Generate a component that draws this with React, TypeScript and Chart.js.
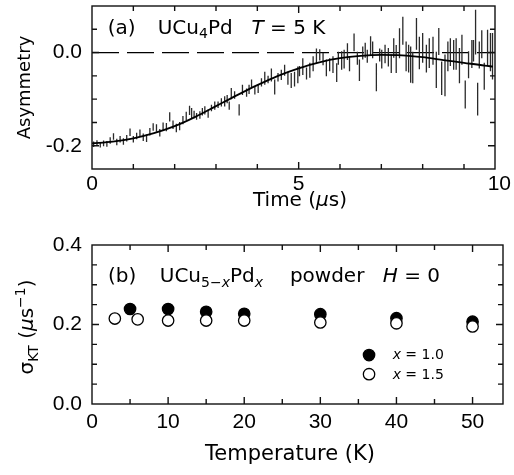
import React, { useEffect, useRef } from 'react';
import { Chart, registerables } from 'chart.js';
Chart.register(...registerables);

const FAM = '"DejaVu Sans"';
const F21 = `21px ${FAM}`;
const F20 = `20px ${FAM}`;
const F20I = `italic 20px ${FAM}`;
const F18 = `18px ${FAM}`;
const F14 = `14px ${FAM}`;
const F14I = `italic 14px ${FAM}`;
const TICK_FONT = '21px "Liberation Sans"';

// ---------- Panel (a): asymmetry vs time ----------
const A_T = [
  0.04, 0.12, 0.2, 0.28, 0.36, 0.44, 0.52, 0.6, 0.68, 0.76,
  0.84, 0.92, 1.0, 1.08, 1.16, 1.24, 1.32, 1.4, 1.48, 1.56,
  1.64, 1.72, 1.8, 1.88, 1.96, 2.04, 2.12, 2.2, 2.28, 2.36,
  2.41, 2.47, 2.53, 2.61, 2.67, 2.73, 2.81, 2.89, 2.97, 3.05,
  3.13, 3.21, 3.27, 3.32, 3.37, 3.45, 3.56, 3.64, 3.74, 3.8,
  3.86, 3.94, 4.02, 4.1, 4.18, 4.26, 4.34, 4.42, 4.5, 4.58,
  4.66, 4.74, 4.82, 4.9, 4.98,
  5.02, 5.1, 5.19, 5.27, 5.35, 5.43, 5.51, 5.59, 5.67, 5.75,
  5.83, 5.92, 5.96, 6.04, 6.1, 6.18, 6.23, 6.34, 6.42, 6.47,
  6.55, 6.61, 6.66, 6.74, 6.79, 6.88, 6.96, 7.01, 7.09, 7.17,
  7.24, 7.3, 7.36,
  7.44, 7.52, 7.6, 7.66, 7.71, 7.76, 7.85, 7.92, 8.0, 8.09,
  8.16, 8.25, 8.33, 8.39, 8.46, 8.54, 8.61, 8.67, 8.75, 8.81,
  8.89, 8.95, 9.03, 9.11, 9.19, 9.23, 9.28, 9.33, 9.37, 9.43,
  9.49, 9.57, 9.64, 9.69,
];
const A_Y = [
  -0.197, -0.194, -0.198, -0.195, -0.196, -0.189, -0.18, -0.192, -0.186, -0.191,
  -0.184, -0.171, -0.186, -0.179, -0.173, -0.182, -0.184, -0.17, -0.16, -0.162,
  -0.172, -0.158, -0.16, -0.138, -0.155, -0.162, -0.158, -0.145, -0.136, -0.124,
  -0.13, -0.133, -0.137, -0.134, -0.127, -0.124, -0.131, -0.119, -0.114, -0.112,
  -0.107, -0.105, -0.1, -0.114, -0.088, -0.091, -0.123, -0.08, -0.086, -0.079,
  -0.067, -0.081, -0.078, -0.064, -0.055, -0.058, -0.048, -0.074, -0.053, -0.048,
  -0.038, -0.055, -0.06, -0.057, -0.048,
  -0.04, -0.03, -0.045, -0.038, -0.024, -0.007, -0.005, -0.014, -0.033, -0.026,
  -0.026, -0.043, -0.012, -0.017, -0.014, 0.002, -0.024, 0.022, -0.012, -0.038,
  -0.001, 0.005, -0.008, 0.015, 0.006, -0.053, -0.005, -0.014, -0.003, -0.01,
  -0.024, 0.01, -0.014,
  0.02, 0.047, -0.008, -0.013, -0.026, -0.032, 0.04, -0.001, 0.01, -0.013,
  -0.001, 0.004, -0.037, 0.024, -0.055, -0.049, -0.008, 0.001, -0.005, -0.003,
  -0.028, 0.006, -0.09, -0.026, -0.003, 0.004, 0.044, -0.1, -0.005, 0.018,
  -0.051, 0.01, 0.001, -0.008,
];
const A_E = [
  0.006, 0.006, 0.006, 0.006, 0.006, 0.007, 0.007, 0.007, 0.007, 0.007,
  0.007, 0.008, 0.007, 0.007, 0.008, 0.008, 0.008, 0.008, 0.008, 0.008,
  0.008, 0.008, 0.009, 0.01, 0.009, 0.009, 0.009, 0.009, 0.009, 0.01,
  0.011, 0.008, 0.007, 0.008, 0.008, 0.009, 0.009, 0.007, 0.009, 0.007,
  0.009, 0.011, 0.009, 0.009, 0.012, 0.008, 0.012, 0.011, 0.009, 0.01,
  0.009, 0.009, 0.009, 0.009, 0.014, 0.008, 0.014, 0.016, 0.009, 0.011,
  0.012, 0.014, 0.016, 0.016, 0.018,
  0.011, 0.018, 0.013, 0.016, 0.016, 0.016, 0.012, 0.013, 0.018, 0.014,
  0.018, 0.02, 0.014, 0.02, 0.02, 0.018, 0.016, 0.019, 0.014, 0.023,
  0.014, 0.016, 0.014, 0.02, 0.018, 0.03, 0.014, 0.02, 0.02, 0.02,
  0.02, 0.021, 0.03,
  0.032, 0.03, 0.032, 0.03, 0.039, 0.034, 0.034, 0.035, 0.032, 0.03,
  0.032, 0.03, 0.039, 0.029, 0.036, 0.045, 0.032, 0.03, 0.032, 0.034,
  0.038, 0.032, 0.03, 0.029, 0.03, 0.023, 0.048, 0.035, 0.029, 0.03,
  0.029, 0.039, 0.041, 0.05,
];
const A_FIT_T = [0, 0.5, 1, 1.5, 2, 2.5, 3, 3.5, 4, 4.5, 5, 5.5, 6, 6.5, 7, 7.5, 8, 8.5, 9, 9.5, 9.7];
const A_FIT_Y = [
  -0.195, -0.191, -0.184, -0.173, -0.158, -0.138, -0.115, -0.092, -0.07, -0.05,
  -0.034, -0.021, -0.012, -0.007, -0.005, -0.006, -0.01, -0.016, -0.022, -0.028, -0.03,
];
const A_ZERO_T = [0, 9.75];
const A_X_RANGE = [0, 9.75];
const A_Y_RANGE = [-0.25, 0.1];
const A_X_TICKS = [0, 5, 10];
const A_X_MINOR = [1, 2, 3, 4, 6, 7, 8, 9];
const A_Y_TICKS = [-0.2, 0];
const A_Y_MINOR = [-0.15, -0.1, -0.05, 0.05];

// ---------- Panel (b): sigma_KT vs temperature ----------
const B_T1 = [5, 10, 15, 20, 30, 40, 50];
const B_S1 = [0.239, 0.239, 0.232, 0.227, 0.226, 0.216, 0.207];
const B_T2 = [3, 6, 10, 15, 20, 30, 40, 50];
const B_S2 = [0.215, 0.213, 0.21, 0.21, 0.21, 0.205, 0.203, 0.195];
const B_LABELS = ['1.0', '1.5'];
const B_X_RANGE = [0, 54];
const B_Y_RANGE = [0, 0.4];
const B_X_TICKS = [0, 10, 20, 30, 40, 50];
const B_X_MINOR = [5, 15, 25, 35, 45];
const B_Y_TICKS = [0, 0.2, 0.4];
const B_Y_MINOR = [0.05, 0.1, 0.15, 0.25, 0.3, 0.35];

type Part = [string, string, number?];

function partsWidth(ctx: CanvasRenderingContext2D, parts: Part[]) {
  let w = 0;
  for (const p of parts) {
    ctx.font = p[1];
    w += ctx.measureText(p[0]).width;
  }
  return w;
}

function drawParts(ctx: CanvasRenderingContext2D, parts: Part[], x: number, y: number) {
  let cx = x;
  ctx.textAlign = 'left';
  ctx.textBaseline = 'alphabetic';
  ctx.fillStyle = '#000';
  for (const p of parts) {
    ctx.font = p[1];
    ctx.fillText(p[0], cx, y + (p[2] || 0));
    cx += ctx.measureText(p[0]).width;
  }
}

function drawCentered(ctx: CanvasRenderingContext2D, parts: Part[], cx: number, y: number) {
  drawParts(ctx, parts, cx - partsWidth(ctx, parts) / 2, y);
}

function drawVertical(ctx: CanvasRenderingContext2D, parts: Part[], bx: number, cy: number) {
  ctx.save();
  ctx.translate(bx, cy);
  ctx.rotate(-Math.PI / 2);
  drawParts(ctx, parts, -partsWidth(ctx, parts) / 2, 0);
  ctx.restore();
}

// frame, inward tick marks and x tick labels, all placed through the chart's scales
function framePlugin(
  xMaj: number[], xMin: number[], yMaj: number[], yMin: number[], labelGap: number
) {
  return {
    id: 'frameTicks',
    afterDatasetsDraw(chart: any) {
      const { ctx, chartArea: ca, scales, width } = chart;
      const sx = scales.x;
      const sy = scales.y;
      ctx.save();
      ctx.strokeStyle = '#111';
      ctx.lineWidth = 1.4;
      ctx.beginPath();
      const tx = (vals: number[], len: number) =>
        vals.forEach((v) => {
          const p = sx.getPixelForValue(v);
          if (p < ca.left + 1 || p > ca.right - 1) return;
          ctx.moveTo(p, ca.bottom);
          ctx.lineTo(p, ca.bottom - len);
          ctx.moveTo(p, ca.top);
          ctx.lineTo(p, ca.top + len);
        });
      const ty = (vals: number[], len: number) =>
        vals.forEach((v) => {
          const p = sy.getPixelForValue(v);
          if (p < ca.top + 1 || p > ca.bottom - 1) return;
          ctx.moveTo(ca.left, p);
          ctx.lineTo(ca.left + len, p);
          ctx.moveTo(ca.right, p);
          ctx.lineTo(ca.right - len, p);
        });
      tx(xMaj, 7);
      tx(xMin, 5);
      ty(yMaj, 7);
      ty(yMin, 5);
      ctx.stroke();
      ctx.strokeRect(ca.left, ca.top, ca.right - ca.left, ca.bottom - ca.top);

      // x tick labels
      ctx.font = TICK_FONT;
      ctx.fillStyle = '#000';
      ctx.textAlign = 'center';
      ctx.textBaseline = 'middle';
      xMaj.forEach((v) => {
        const s = String(v);
        const w = ctx.measureText(s).width;
        let p = sx.getPixelForValue(v);
        p = Math.min(p, width - w / 2 - 3);
        ctx.fillText(s, p, ca.bottom + labelGap);
      });
      ctx.restore();
    },
  };
}

function axisX(range: number[], h: number) {
  return {
    type: 'linear',
    min: range[0],
    max: range[1],
    afterFit: (s: any) => {
      s.height = h;
      s.paddingLeft = 0;
      s.paddingRight = 0;
    },
    ticks: { display: false },
    grid: { display: false, drawTicks: false },
    border: { display: false },
  };
}

function axisY(range: number[], ticks: number[], pad: number) {
  return {
    type: 'linear',
    min: range[0],
    max: range[1],
    afterBuildTicks: (s: any) => {
      s.ticks = ticks.map((v) => ({ value: v }));
    },
    afterFit: (s: any) => {
      s.width = 92;
      s.paddingTop = 0;
      s.paddingBottom = 0;
    },
    ticks: {
      autoSkip: false,
      padding: pad,
      color: '#000',
      font: { family: 'Liberation Sans', size: 21 },
      callback: (v: number) => Number(v).toFixed(1),
    },
    grid: { display: false, drawTicks: false },
    border: { display: false },
  };
}

function configA(): any {
  const bars: any[] = [];
  A_T.forEach((t, i) => {
    bars.push({ x: t, y: A_Y[i] - A_E[i] }, { x: t, y: A_Y[i] + A_E[i] }, { x: t, y: null });
  });
  const fit = A_FIT_T.map((t, i) => ({ x: t, y: A_FIT_Y[i] }));
  const zero = A_ZERO_T.map((t) => ({ x: t, y: 0 }));
  const textPlugin = {
    id: 'textA',
    afterDraw(chart: any) {
      const { ctx, chartArea: ca, scales } = chart;
      const X = (v: number) => scales.x.getPixelForValue(v);
      const Y = (v: number) => scales.y.getPixelForValue(v);
      ctx.save();
      const by = Y(0.039);
      drawParts(ctx, [['(a)', F20]], X(0.38), by);
      drawParts(ctx, [['UCu', F20], ['4', F14, 4], ['Pd', F20]], X(1.59), by);
      drawParts(ctx, [['T', F20I], [' = 5 K', F20]], X(3.86), by);
      drawCentered(ctx, [['Time (', F20], ['μ', F20I], ['s)', F20]], ca.left + 208, ca.bottom + 37);
      drawVertical(ctx, [['Asymmetry', F18]], ca.left - 62, (ca.top + ca.bottom) / 2);
      ctx.restore();
    },
  };
  return {
    type: 'scatter',
    data: {
      datasets: [
        {
          data: fit, showLine: true, borderColor: '#000', borderWidth: 1.8, pointRadius: 0,
          cubicInterpolationMode: 'monotone', order: 0,
        },
        {
          data: bars, showLine: true, borderColor: '#2a2a2a', borderWidth: 1.3, pointRadius: 0,
          spanGaps: false, order: 1,
        },
        {
          data: zero, showLine: true, borderColor: '#000', borderWidth: 1.3, pointRadius: 0,
          borderDash: [27, 8], order: 2,
        },
      ],
    },
    options: {
      responsive: false,
      animation: false,
      events: [],
      layout: { padding: { top: 6, right: 19, left: 0, bottom: 0 } },
      plugins: { legend: { display: false }, tooltip: { enabled: false } },
      scales: {
        x: axisX(A_X_RANGE, 61),
        y: axisY(A_Y_RANGE, A_Y_TICKS, 10),
      },
    },
    plugins: [framePlugin(A_X_TICKS, A_X_MINOR, A_Y_TICKS, A_Y_MINOR, 15), textPlugin],
  };
}

function configB(): any {
  const s1 = B_T1.map((t, i) => ({ x: t, y: B_S1[i] }));
  const s2 = B_T2.map((t, i) => ({ x: t, y: B_S2[i] }));
  const textPlugin = {
    id: 'textB',
    afterDraw(chart: any) {
      const { ctx, chartArea: ca, scales } = chart;
      const X = (v: number) => scales.x.getPixelForValue(v);
      const Y = (v: number) => scales.y.getPixelForValue(v);
      ctx.save();
      const by = Y(0.308);
      drawParts(ctx, [['(b)', F20]], X(2.1), by);
      drawParts(
        ctx,
        [['UCu', F20], ['5−', F14, 5], ['x', F14I, 5], ['Pd', F20], ['x', F14I, 5]],
        X(8.9),
        by
      );
      drawParts(ctx, [['powder', F20]], X(26.0), by);
      drawParts(ctx, [['H', F20I], [' = 0', F20]], X(38.2), by);
      // legend
      const lx = X(36.4);
      const marks = [
        { y: 0.123, ty: 0.113, fill: '#000', label: B_LABELS[0] },
        { y: 0.075, ty: 0.064, fill: '#fff', label: B_LABELS[1] },
      ];
      for (const m of marks) {
        ctx.beginPath();
        ctx.arc(lx, Y(m.y), 5.7, 0, Math.PI * 2);
        ctx.fillStyle = m.fill;
        ctx.fill();
        ctx.lineWidth = 1.3;
        ctx.strokeStyle = '#000';
        ctx.stroke();
        drawParts(ctx, [['x', F14I], [' = ' + m.label, F14]], X(39.5), Y(m.ty));
      }
      drawCentered(ctx, [['Temperature (K)', F21]], ca.left + 198, ca.bottom + 56);
      drawVertical(
        ctx,
        [['σ', F20], ['KT', F14, 5], [' (', F20], ['μ', F20I], ['s', F20], ['−1', F14, -8], [')', F20]],
        ca.left - 59,
        (ca.top + ca.bottom) / 2 + 2.5
      );
      ctx.restore();
    },
  };
  return {
    type: 'scatter',
    data: {
      datasets: [
        {
          label: 'x = ' + B_LABELS[1], data: s2, pointRadius: 5.7, pointBackgroundColor: '#fff',
          pointBorderColor: '#000', pointBorderWidth: 1.3, order: 0,
        },
        {
          label: 'x = ' + B_LABELS[0], data: s1, pointRadius: 5.7, pointBackgroundColor: '#000',
          pointBorderColor: '#000', pointBorderWidth: 1.3, order: 1,
        },
      ],
    },
    options: {
      responsive: false,
      animation: false,
      events: [],
      layout: { padding: { top: 15, right: 11, left: 0, bottom: 0 } },
      plugins: { legend: { display: false }, tooltip: { enabled: false } },
      scales: {
        x: axisX(B_X_RANGE, 71),
        y: axisY(B_Y_RANGE, B_Y_TICKS, 10),
      },
    },
    plugins: [framePlugin(B_X_TICKS, B_X_MINOR, B_Y_TICKS, B_Y_MINOR, 18), textPlugin],
  };
}

function Panel({ make, top, height }: { make: () => any; top: number; height: number }) {
  const ref = useRef<HTMLCanvasElement>(null);
  useEffect(() => {
    const chart = new Chart(ref.current as HTMLCanvasElement, make());
    return () => chart.destroy();
  }, []);
  return (
    <canvas
      ref={ref}
      width={514}
      height={height}
      style={{ position: 'absolute', left: 0, top, width: 514, height, display: 'block' }}
    />
  );
}

export default function App() {
  return (
    <div
      style={{
        position: 'absolute', left: 0, top: 0, width: 514, height: 475,
        overflow: 'hidden', background: '#fff',
      }}
    >
      <Panel make={configA} top={0} height={230} />
      <Panel make={configB} top={230} height={245} />
    </div>
  );
}
